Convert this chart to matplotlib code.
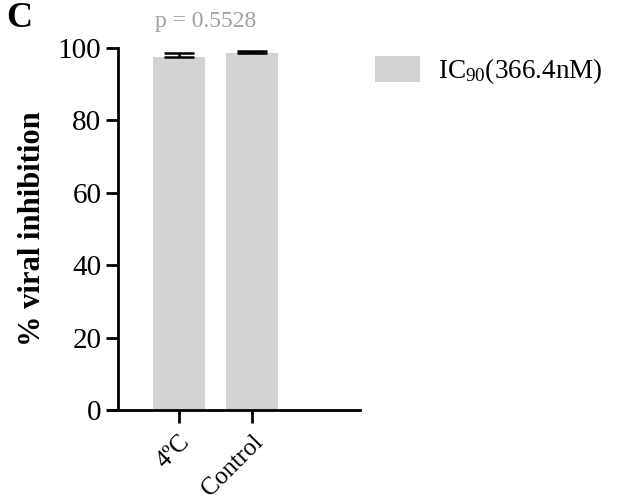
import matplotlib
matplotlib.use("Agg")
import matplotlib.pyplot as plt
from matplotlib.patches import Patch

categories = ["4ºC", "Control"]
values = [97.5, 98.6]
errors = [1.0, 0.7]
yticks = [0, 20, 40, 60, 80, 100]
legend_label = "IC$_{90}$(366.4nM)"
p_text = "p = 0.5528"

plt.rcParams['font.family'] = ['Liberation Serif', 'DejaVu Serif']
plt.rcParams['mathtext.fontset'] = 'custom'
plt.rcParams['mathtext.rm'] = 'Liberation Serif'
plt.rcParams['mathtext.it'] = 'Liberation Serif:italic'

fig = plt.figure(figsize=(6.26, 5.04), dpi=100)
ax = fig.add_axes([108/626, 94/504, 252/626, 362/504])

x = list(range(len(categories)))
bar_color = "#d3d3d3"
ax.bar(x, values, width=0.72, color=bar_color, zorder=2)
ax.errorbar(x, values, yerr=[[0]*len(errors), errors], fmt='none',
            ecolor='black', elinewidth=1.8, capsize=11, capthick=1.8, zorder=3)

ax.set_xlim(-71/73, 181/73)
ax.set_ylim(0, 100)
ax.spines['top'].set_visible(False)
ax.spines['right'].set_visible(False)
ax.spines['left'].set_position(('data', -61/73))
ax.spines['left'].set_linewidth(2)
ax.spines['bottom'].set_linewidth(2)
ax.spines['left'].set_bounds(0, 100)

ax.set_yticks(yticks)
ax.set_yticklabels([str(t) for t in yticks], fontsize=21)
ax.set_xticks(x)
ax.set_xticklabels(categories, fontsize=18, rotation=45, ha='right', rotation_mode='anchor')
ax.tick_params(axis='both', width=2, length=9, color='black')
ax.tick_params(axis='y', pad=3)
ax.tick_params(axis='x', pad=6)

ax.set_ylabel("% viral inhibition", fontsize=22, fontweight='bold', labelpad=8)

fig.text(206/626, 1 - 21/504, p_text, fontsize=17, color='#a0a0a0', ha='center', va='center')
fig.text(6/626, 1 - 2/504, "C", fontsize=26, fontweight='bold', ha='left', va='top')

handles = [Patch(facecolor=bar_color, edgecolor='none', label=legend_label)]
fig.legend(handles=handles, loc='upper left', bbox_to_anchor=(375/626, 1 - 56/504),
           frameon=False, fontsize=19.5, handlelength=1.67, handleheight=1.1,
           handletextpad=0.65, borderpad=0, borderaxespad=0)

fig.savefig("out.png", dpi=100)
